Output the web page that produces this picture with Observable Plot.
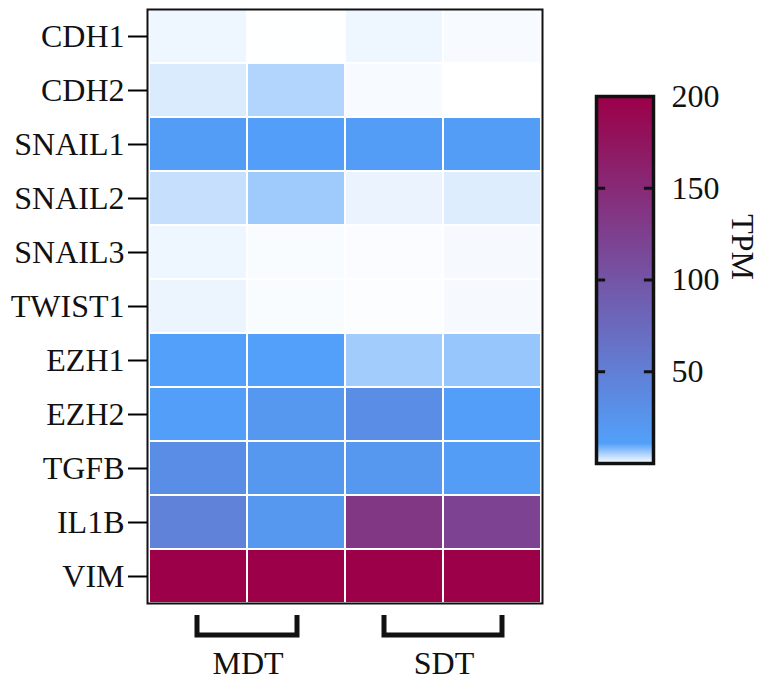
<!DOCTYPE html>
<html><head><meta charset="utf-8">
<script src="https://cdn.jsdelivr.net/npm/d3@7"></script>
<script src="https://cdn.jsdelivr.net/npm/@observablehq/plot@0.6"></script>
<style>
body{margin:0;background:#fff}
#wrap{position:relative;width:766px;height:680px;overflow:hidden}
#wrap svg{position:absolute;left:0;top:0}
</style>
</head><body><div id="wrap"></div>
<script>
const genes = ["CDH1","CDH2","SNAIL1","SNAIL2","SNAIL3","TWIST1","EZH1","EZH2","TGFB","IL1B","VIM"];
const samples = ["MDT1","MDT2","SDT1","SDT2"];
const groups = ["MDT","SDT"];
const groupMembers = [["MDT1","MDT2"],["SDT1","SDT2"]];
// TPM per sample, in gene order
const tpmMDT1 = [1.1, 2.3, 14, 3.7, 1.1, 1.2, 11.5, 13, 32, 46, 205];
const tpmMDT2 = [0.05, 4.9, 13, 6.1, 0.4, 0.4, 11.5, 22, 22, 22, 205];
const tpmSDT1 = [1.1, 0.5, 14, 1.3, 0.3, 0.2, 5.9, 33, 22, 135, 205];
const tpmSDT2 = [0.5, 0.0, 15, 2.1, 0.6, 0.6, 6.6, 13, 14, 122, 205];
const legendTicks = [50, 100, 150, 200];
const legendInnerTicks = [50, 100, 150];
const colorLabel = "TPM";

const columns = [tpmMDT1, tpmMDT2, tpmSDT1, tpmSDT2];
const data = genes.flatMap((g, i) => samples.map((s, j) => ({gene: g, sample: s, tpm: columns[j][i]})));

const FONT = "'Liberation Serif','Times New Roman',serif";
const FS = 32;
const color = {type: "linear", domain: [0, 11, 200], range: ["#ffffff", "#52a0fa", "#9b0048"], clamp: true};

const main = Plot.plot({
  width: 766, height: 680,
  marginLeft: 147, marginRight: 224, marginTop: 9, marginBottom: 77,
  style: {fontFamily: FONT, fontSize: FS + "px", color: "#000", background: "transparent"},
  x: {domain: samples, padding: 0, axis: null},
  y: {domain: genes, padding: 0, label: null},
  color,
  marks: [
    Plot.cell(data, {x: "sample", y: "gene", fill: "tpm", stroke: "white", strokeWidth: 2}),
    Plot.frame({stroke: "#111", strokeWidth: 2}),
    Plot.axisY({tickSize: 19, tickPadding: 4, fontSize: FS, strokeWidth: 2, label: null, fill: "#111"})
  ]
});

// group brackets and labels, positioned through the x scale
const xs = main.scale("x");
const bw = xs.bandwidth;
const frameBottom = 680 - 77;
const extend = [1, 10];
const sel = d3.select(main);
groups.forEach((name, k) => {
  const m = groupMembers[k];
  const xa = xs.apply(m[0]) + bw / 2 - extend[k];
  const xb = xs.apply(m[1]) + bw / 2 + extend[k];
  sel.append("path")
    .attr("d", `M${xa},${frameBottom + 12}V${frameBottom + 32}H${xb}V${frameBottom + 12}`)
    .attr("fill", "none").attr("stroke", "#111").attr("stroke-width", 5)
    .attr("stroke-linejoin", "miter");
  sel.append("text")
    .attr("x", xs.apply(m[1]) + 1)
    .attr("y", 674)
    .attr("text-anchor", "middle")
    .attr("font-family", FONT).attr("font-size", FS).attr("fill", "#111")
    .text(name);
});

// colour bar
const legend = Plot.plot({
  width: 766, height: 680,
  marginLeft: 596, marginRight: 113, marginTop: 96, marginBottom: 217,
  style: {fontFamily: FONT, fontSize: FS + "px", color: "#000", background: "transparent"},
  x: {domain: [0, 1], axis: null},
  y: {domain: [0, 200], axis: null},
  color,
  marks: [
    Plot.raster({x1: 0, x2: 1, y1: 0, y2: 200, width: 4, height: 400, fill: (x, y) => y, imageRendering: "auto"}),
    Plot.ruleY(legendInnerTicks, {x1: 0, x2: 0.16, stroke: "#111", strokeWidth: 3}),
    Plot.ruleY(legendInnerTicks, {x1: 0.84, x2: 1, stroke: "#111", strokeWidth: 3}),
    Plot.frame({stroke: "#111", strokeWidth: 3.5}),
    Plot.axisY({ticks: legendTicks, anchor: "right", tickSize: 0, tickPadding: 18, fontSize: FS, label: null, fill: "#111"}),
    Plot.text([colorLabel], {frameAnchor: "right", dx: 89, rotate: 90, fontSize: FS, fill: "#111"})
  ]
});

const wrap = document.getElementById("wrap");
wrap.appendChild(main);
wrap.appendChild(legend);
</script>
</body></html>
